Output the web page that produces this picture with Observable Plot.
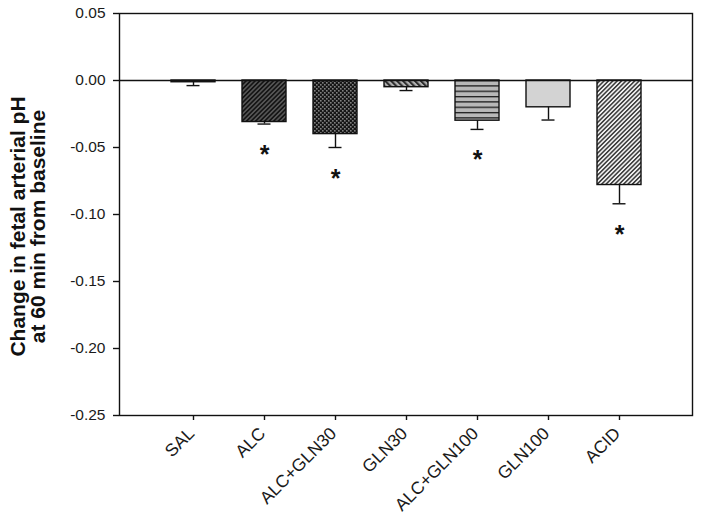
<!DOCTYPE html>
<html>
<head>
<meta charset="utf-8">
<script src="https://cdn.jsdelivr.net/npm/d3@7"></script>
<script src="https://cdn.jsdelivr.net/npm/@observablehq/plot@0.6"></script>
<style>
  html, body { margin: 0; padding: 0; background: #fff; }
  #chart { width: 702px; height: 529px; }
</style>
</head>
<body>
<div id="chart"></div>
<script>
// ---- data ----
const categories = ["SAL", "ALC", "ALC+GLN30", "GLN30", "ALC+GLN100", "GLN100", "ACID"];
const means = [-0.0013, -0.031, -0.040, -0.005, -0.030, -0.020, -0.078];
const sems = [0.0025, 0.0015, 0.010, 0.0025, 0.0065, 0.0095, 0.014];
const significant = [false, true, true, false, true, false, true];
const yTicks = [0.05, 0.00, -0.05, -0.10, -0.15, -0.20, -0.25];
const yLabel = "Change in fetal arterial pH\nat 60 min from baseline";

// ---- fills (patterns) ----
const fills = ["url(#p-sal)", "url(#p-alc)", "url(#p-alcgln30)", "url(#p-gln30)", "url(#p-alcgln100)", "url(#p-gln100)", "url(#p-acid)"];

const data = categories.map((c, i) => ({cat: c, mean: means[i], sem: sems[i], sig: significant[i]}));
const font = "'Liberation Sans', Arial, sans-serif";

const svg = Plot.plot({
  width: 702,
  height: 529,
  marginLeft: 119,
  marginRight: 10,
  marginTop: 13,
  marginBottom: 114,
  style: {fontFamily: font, color: "#111", background: "#fff"},
  x: {domain: categories, paddingInner: 0.385, paddingOuter: 0.6925, axis: null},
  y: {domain: [-0.25, 0.05], axis: null},
  color: {type: "ordinal", domain: categories, range: fills},
  marks: [
    Plot.barY(data, {x: "cat", y1: 0, y2: "mean", fill: "cat", stroke: "#111", strokeWidth: 1.4}),
    Plot.ruleX(data, {x: "cat", y1: "mean", y2: d => d.mean - d.sem, stroke: "#111", strokeWidth: 1.4}),
    Plot.tickY(data, {x: "cat", y: d => d.mean - d.sem, insetLeft: 15.5, insetRight: 15.5, stroke: "#111", strokeWidth: 1.4}),
    Plot.text(data.filter(d => d.sig), {x: "cat", y: d => d.mean - d.sem, text: () => "*", dy: 31, fontSize: 25, fontWeight: "bold", fill: "#111"}),
    Plot.ruleY([0], {stroke: "#111", strokeWidth: 1.4}),
    Plot.frame({stroke: "#111", strokeWidth: 1.4}),
    // axes: tick lines from Plot's axis marks, labels as text marks
    Plot.axisY({ticks: yTicks, tickFormat: () => "", tickSize: 6, label: null, strokeWidth: 1.4}),
    Plot.text(yTicks, {y: d => d, text: d => d.toFixed(2), frameAnchor: "left", textAnchor: "end", dx: -14, fontSize: 15.5, fill: "#1a1a1a"}),
    Plot.axisX({tickSize: 5, tickFormat: () => "", label: null, strokeWidth: 1.4}),
    Plot.text(categories, {x: d => d, text: d => d, frameAnchor: "bottom", textAnchor: "end", rotate: -45, dx: 2, dy: 19, fontSize: 17.5, fill: "#1a1a1a"}),
    Plot.text([yLabel], {text: d => d, frameAnchor: "left", textAnchor: "middle", rotate: -90, dx: -91, dy: 12, fontSize: 21, fontWeight: "bold", lineHeight: 0.97, fill: "#111"})
  ]
});

// pattern definitions
const defs = d3.select(svg).insert("defs", ":first-child");
function stripes(id, bg, fg, period, width, angle) {
  const p = defs.append("pattern").attr("id", id).attr("patternUnits", "userSpaceOnUse")
    .attr("width", period).attr("height", period).attr("patternTransform", `rotate(${angle})`);
  p.append("rect").attr("width", period).attr("height", period).attr("fill", bg);
  p.append("rect").attr("x", 0).attr("y", 0).attr("width", width).attr("height", period).attr("fill", fg);
}
// SAL: solid dark
defs.append("pattern").attr("id", "p-sal").attr("patternUnits", "userSpaceOnUse").attr("width", 4).attr("height", 4)
  .append("rect").attr("width", 4).attr("height", 4).attr("fill", "#333");
// ALC: dark grey with black "/" stripes
stripes("p-alc", "#555", "#141414", 3.2, 1.6, 45);
// ALC+GLN30: black with grey dots
{
  const p = defs.append("pattern").attr("id", "p-alcgln30").attr("patternUnits", "userSpaceOnUse").attr("width", 4).attr("height", 4);
  p.append("rect").attr("width", 4).attr("height", 4).attr("fill", "#161616");
  p.append("rect").attr("x", 0).attr("y", 0).attr("width", 1.6).attr("height", 1.6).attr("fill", "#808080");
  p.append("rect").attr("x", 2).attr("y", 2).attr("width", 1.6).attr("height", 1.6).attr("fill", "#808080");
}
// GLN30: grey with dark "\" stripes
stripes("p-gln30", "#b0b0b0", "#2a2a2a", 4.2, 2, -45);
// ALC+GLN100: light grey with horizontal black lines
{
  const p = defs.append("pattern").attr("id", "p-alcgln100").attr("patternUnits", "userSpaceOnUse").attr("width", 5.33).attr("height", 5.33);
  p.append("rect").attr("width", 5.33).attr("height", 5.33).attr("fill", "#b8b8b8");
  p.append("rect").attr("x", 0).attr("y", 0).attr("width", 5.33).attr("height", 1.3).attr("fill", "#1a1a1a");
}
// GLN100: plain light grey
defs.append("pattern").attr("id", "p-gln100").attr("patternUnits", "userSpaceOnUse").attr("width", 4).attr("height", 4)
  .append("rect").attr("width", 4).attr("height", 4).attr("fill", "#d3d3d3");
// ACID: light with dark "/" stripes
stripes("p-acid", "#f0f0f0", "#3a3a3a", 3.1, 1.5, 45);

document.getElementById("chart").appendChild(svg);
</script>
</body>
</html>
